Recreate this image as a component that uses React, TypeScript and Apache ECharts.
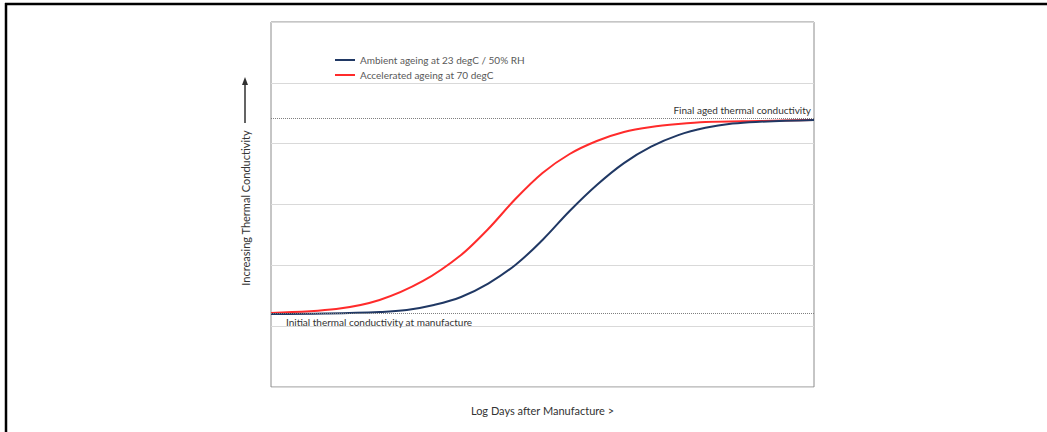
import React, { useEffect, useRef } from "react";
import * as echarts from "echarts";

// x: relative position on the log-days axis (0–100), y: relative conductivity (0–6)
const ambientX = [0, 10, 20, 25, 30, 35, 40, 45, 50, 55, 60, 65, 70, 75, 80, 85, 90, 100];
const ambientY = [1.2, 1.208, 1.233, 1.266, 1.348, 1.48, 1.7, 2.006, 2.417, 2.893, 3.32, 3.68, 3.95, 4.14, 4.26, 4.33, 4.36, 4.39];
const accelX = [0, 12, 20, 28, 35, 40, 45, 50, 55, 60, 65, 70, 75, 80, 90, 100];
const accelY = [1.217, 1.282, 1.43, 1.743, 2.17, 2.597, 3.09, 3.518, 3.83, 4.044, 4.192, 4.274, 4.323, 4.356, 4.373, 4.39];

const seriesNames = ["Ambient ageing at 23 degC / 50% RH", "Accelerated ageing at 70 degC"];
const finalLevel = 4.42;
const initialLevel = 1.21;
const finalLabel = "Final aged thermal conductivity";
const initialLabel = "Initial thermal conductivity at manufacture";
const xTitle = "Log Days after Manufacture >";
const yTitle = "Increasing Thermal Conductivity";

const FONT = "Lato";

export default function App() {
  const ref = useRef<HTMLDivElement>(null);
  useEffect(() => {
    if (!ref.current) return;
    const chart = echarts.init(ref.current, null, { renderer: "svg" });
    const pair = (xs: number[], ys: number[]) => xs.map((x, i) => [x, ys[i]]);
    chart.setOption({
      animation: false,
      backgroundColor: "#ffffff",
      grid: {
        left: 271,
        top: 22,
        right: 233,
        bottom: 45,
        show: true,
        borderColor: "#8c8c8c",
        borderWidth: 1,
      },
      legend: {
        orient: "vertical",
        left: 330,
        top: 50,
        itemGap: 5,
        icon: "rect",
        itemWidth: 20,
        itemHeight: 2,
        textStyle: { color: "#595959", fontSize: 10, fontFamily: FONT },
        data: seriesNames,
      },
      xAxis: {
        type: "value",
        min: 0,
        max: 100,
        axisLine: { show: false },
        axisTick: { show: false },
        axisLabel: { show: false },
        splitLine: { show: false },
        name: xTitle,
        nameLocation: "middle",
        nameGap: 18,
        nameTextStyle: { color: "#333333", fontSize: 11, fontFamily: FONT },
      },
      yAxis: {
        type: "value",
        min: 0,
        max: 6,
        interval: 1,
        axisLine: { show: false },
        axisTick: { show: false },
        axisLabel: { show: false },
        splitLine: { show: true, lineStyle: { color: "#d9d9d9", width: 1 } },
      },
      series: [
        {
          name: seriesNames[0],
          type: "line",
          data: pair(ambientX, ambientY),
          smooth: 0.4,
          symbol: "none",
          lineStyle: { color: "#203864", width: 2 },
          itemStyle: { color: "#203864" },
          z: 3,
          markLine: {
            silent: true,
            symbol: "none",
            lineStyle: { type: "dotted", color: "#7f7f7f", width: 1 },
            data: [
              {
                yAxis: finalLevel,
                label: {
                  formatter: finalLabel,
                  position: "insideEndTop",
                  distance: [3, 3],
                  color: "#333333",
                  fontSize: 10,
                  fontFamily: FONT,
                },
              },
              {
                yAxis: initialLevel,
                label: {
                  formatter: initialLabel,
                  position: "insideStartBottom",
                  distance: [15, 4],
                  color: "#333333",
                  fontSize: 10,
                  fontFamily: FONT,
                },
              },
            ],
          },
        },
        {
          name: seriesNames[1],
          type: "line",
          data: pair(accelX, accelY),
          smooth: 0.3,
          symbol: "none",
          lineStyle: { color: "#ff2b2b", width: 2 },
          itemStyle: { color: "#ff2b2b" },
          z: 2,
        },
      ],
      graphic: [
        { type: "line", shape: { x1: 5, y1: 4, x2: 1047, y2: 4 }, style: { stroke: "#000", lineWidth: 2.5 } },
        { type: "line", shape: { x1: 6, y1: 3, x2: 6, y2: 432 }, style: { stroke: "#000", lineWidth: 2.5 } },
        {
          type: "text",
          x: 245,
          y: 208,
          rotation: Math.PI / 2,
          style: {
            text: yTitle,
            fill: "#333333",
            fontSize: 11,
            fontFamily: FONT,
            align: "center",
            verticalAlign: "middle",
          },
        },
        { type: "line", shape: { x1: 245, y1: 123, x2: 245, y2: 83 }, style: { stroke: "#303030", lineWidth: 1.5 } },
        { type: "polygon", shape: { points: [[245, 77], [242, 85], [248, 85]] }, style: { fill: "#303030" } },
      ],
    });
    return () => chart.dispose();
  }, []);
  return <div ref={ref} style={{ position: "absolute", left: 0, top: 0, width: 1047, height: 432 }} />;
}
